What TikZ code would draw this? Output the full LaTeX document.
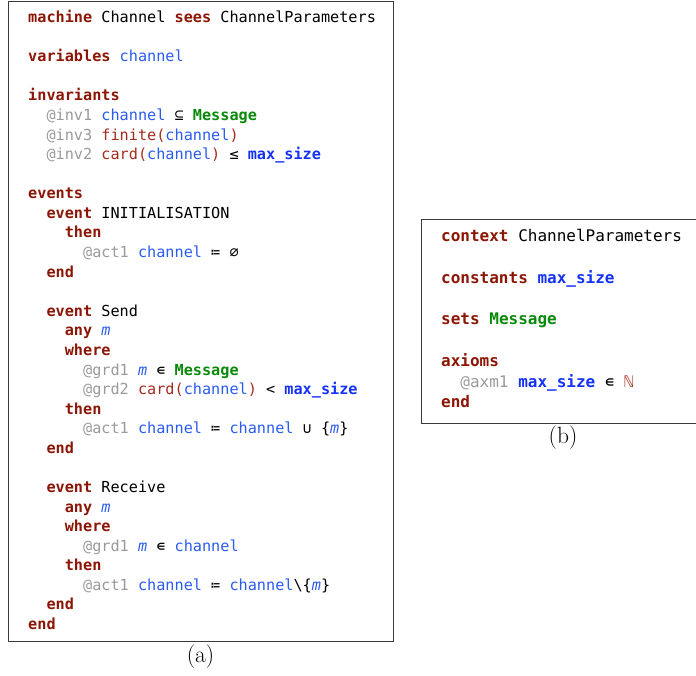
\documentclass[tikz,border=0pt]{standalone}
\usepackage{fontspec}
\setmonofont{DejaVu Sans Mono}
\definecolor{kwred}{HTML}{8C1605}
\definecolor{fnred}{HTML}{A52A1E}
\definecolor{varblue}{HTML}{2B5CF0}
\definecolor{cstblue}{HTML}{1432F5}
\definecolor{setgreen}{HTML}{0A8A0A}
\definecolor{lblgray}{HTML}{9A9A9A}
\definecolor{boxgray}{HTML}{3A3A3A}
\newcommand{\kw}[1]{\textcolor{kwred}{\textbf{#1}}}
\newcommand{\varb}[1]{\textcolor{varblue}{#1}}
\newcommand{\cst}[1]{\textcolor{cstblue}{\textbf{#1}}}
\newcommand{\carr}[1]{\textcolor{setgreen}{\textbf{#1}}}
\newcommand{\lbl}[1]{\textcolor{lblgray}{#1}}
\newcommand{\opf}[1]{\textcolor{fnred}{#1}}
\newcommand{\prm}[1]{\textcolor{varblue}{\textit{#1}}}
\newcommand{\ind}{\phantom{xx}}
\begin{document}
\begin{tikzpicture}[x=1pt, y=-1pt,
    codebox/.style={draw=boxgray, line width=0.9pt},
    listing/.style={anchor=north west, inner sep=0pt, align=left},
    caption/.style={font=\fontsize{23.5}{28}\selectfont, inner sep=0pt}]
  \useasboundingbox (0,0) rectangle (696,675);

  % Machine box
  \draw[codebox] (8.5,1.5) rectangle (393.5,641.5);
  \node[listing, font=\ttfamily\fontsize{15.2}{19.58}\selectfont] (machine) at (28,10) {%
    \kw{machine} Channel \kw{sees} ChannelParameters\\
    \mbox{}\\
    \kw{variables} \varb{channel}\\
    \mbox{}\\
    \kw{invariants}\\
    \ind\lbl{@inv1} \varb{channel} ⊆ \carr{Message}\\
    \ind\lbl{@inv3} \opf{finite(}\varb{channel}\opf{)}\\
    \ind\lbl{@inv2} \opf{card(}\varb{channel}\opf{)} ≤ \cst{max\_size}\\
    \mbox{}\\
    \kw{events}\\
    \ind\kw{event} INITIALISATION\\
    \ind\ind\kw{then}\\
    \ind\ind\ind\lbl{@act1} \varb{channel} ≔ ∅\\
    \ind\kw{end}\\
    \mbox{}\\
    \ind\kw{event} Send\\
    \ind\ind\kw{any} \prm{m}\\
    \ind\ind\kw{where}\\
    \ind\ind\ind\lbl{@grd1} \prm{m} ∊ \carr{Message}\\
    \ind\ind\ind\lbl{@grd2} \opf{card(}\varb{channel}\opf{)} < \cst{max\_size}\\
    \ind\ind\kw{then}\\
    \ind\ind\ind\lbl{@act1} \varb{channel} ≔ \varb{channel} ∪ \{\prm{m}\}\\
    \ind\kw{end}\\
    \mbox{}\\
    \ind\kw{event} Receive\\
    \ind\ind\kw{any} \prm{m}\\
    \ind\ind\kw{where}\\
    \ind\ind\ind\lbl{@grd1} \prm{m} ∊ \varb{channel}\\
    \ind\ind\kw{then}\\
    \ind\ind\ind\lbl{@act1} \varb{channel} ≔ \varb{channel}\textbackslash\{\prm{m}\}\\
    \ind\kw{end}\\
    \kw{end}};
  \node[caption] (capa) at (200.5,657) {(a)};

  % Context box
  \draw[codebox] (421,219) rectangle (697,423.5);
  \node[listing, font=\ttfamily\fontsize{16}{20.8}\selectfont] (context) at (441,229) {%
    \kw{context} ChannelParameters\\
    \mbox{}\\
    \kw{constants} \cst{max\_size}\\
    \mbox{}\\
    \kw{sets} \carr{Message}\\
    \mbox{}\\
    \kw{axioms}\\
    \ind\lbl{@axm1} \cst{max\_size} ∊ \opf{ℕ}\\
    \kw{end}};
  \node[caption] (capb) at (563,437.5) {(b)};
\end{tikzpicture}
\end{document}
